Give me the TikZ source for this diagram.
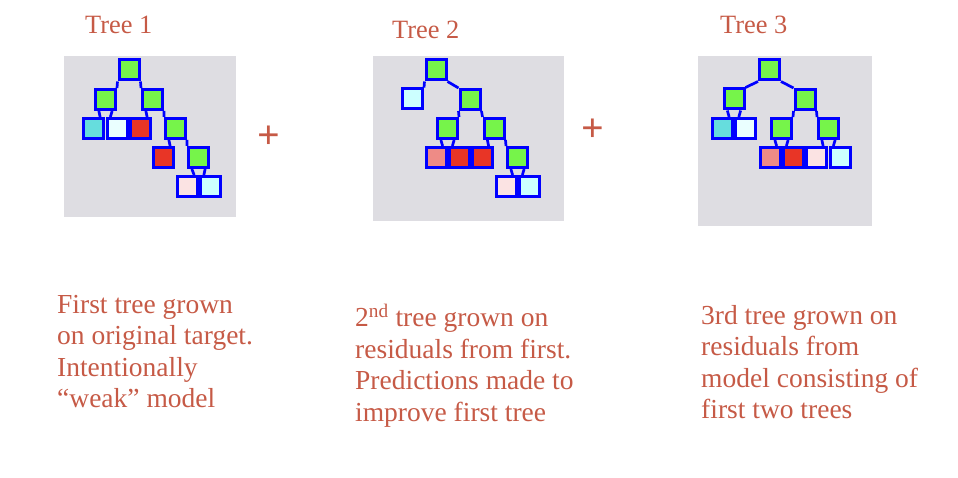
\documentclass[tikz,border=0pt]{standalone}
\usepackage{fontspec}
\setmainfont{Liberation Serif}
\definecolor{brick}{RGB}{198,90,70}
\definecolor{panel}{RGB}{222,221,226}
\definecolor{grn}{RGB}{118,244,74}
\definecolor{cyn}{RGB}{102,221,221}
\definecolor{wht}{RGB}{234,255,255}
\definecolor{rd}{RGB}{232,53,38}
\definecolor{slm}{RGB}{238,139,134}
\definecolor{pnk}{RGB}{251,227,227}
\definecolor{lcy}{RGB}{204,255,255}
\begin{document}
\begin{tikzpicture}[x=1bp, y=-1bp,
  box/.style={draw=blue, line width=3bp, minimum size=20bp, inner sep=0pt},
  edge/.style={draw=blue, line width=2.7bp},
  title/.style={text=brick, font=\fontsize{26.5}{30}\selectfont, inner sep=0pt, anchor=base west},
  caption/.style={text=brick, font=\fontsize{27.6}{31.7}\selectfont, inner sep=0pt, anchor=north west, align=left},
  plus/.style={text=brick, font=\fontsize{40}{40}\selectfont\bfseries, inner sep=0pt}]
\useasboundingbox (0,0) rectangle (958,478);
\fill[panel] (64,56) rectangle (236,217);
\fill[panel] (373,56) rectangle (564,221);
\fill[panel] (698,56) rectangle (872,226);
% tree 1
\node[box, fill=grn] (t1r) at (129,70) {};
\node[box, fill=grn] (t1a) at (105.5,99.5) {};
\node[box, fill=grn] (t1b) at (152.5,99.5) {};
\node[box, fill=cyn] (t1c) at (93.5,128.5) {};
\node[box, fill=wht] (t1d) at (117,128.5) {};
\node[box, fill=rd] (t1e) at (140.5,128.5) {};
\node[box, fill=grn] (t1f) at (175.5,128.5) {};
\node[box, fill=rd] (t1g) at (163.5,157.5) {};
\node[box, fill=grn] (t1h) at (198.5,157.5) {};
\node[box, fill=pnk] (t1i) at (187.5,186.5) {};
\node[box, fill=lcy] (t1j) at (210.5,186.5) {};
\draw[edge] (t1r.south west) -- (t1a.north east);
\draw[edge] (t1r.south east) -- (t1b.north west);
\draw[edge] (t1a.-120) -- (t1c.60);
\draw[edge] (t1a.-60) -- (t1d.120);
\draw[edge] (t1b.-120) -- (t1e.60);
\draw[edge] (t1b.south east) -- (t1f.north west);
\draw[edge] (t1f.-120) -- (t1g.60);
\draw[edge] (t1f.south east) -- (t1h.north west);
\draw[edge] (t1h.-120) -- (t1i.60);
\draw[edge] (t1h.-60) -- (t1j.120);
% tree 2
\node[box, fill=grn] (t2r) at (436,70) {};
\node[box, fill=lcy] (t2a) at (412.5,99) {};
\node[box, fill=grn] (t2b) at (470,99.5) {};
\node[box, fill=grn] (t2c) at (447.5,128.5) {};
\node[box, fill=grn] (t2d) at (494,128.5) {};
\node[box, fill=slm] (t2e) at (436,157.5) {};
\node[box, fill=rd] (t2f) at (459,157.5) {};
\node[box, fill=rd] (t2g) at (482,157.5) {};
\node[box, fill=grn] (t2h) at (517.5,157.5) {};
\node[box, fill=pnk] (t2i) at (506,186.5) {};
\node[box, fill=lcy] (t2j) at (529,186.5) {};
\draw[edge] (t2r.south west) -- (t2a.north east);
\draw[edge] (t2r.south east) -- (t2b.north west);
\draw[edge] (t2b.south west) -- (t2c.north east);
\draw[edge] (t2b.south east) -- (t2d.north west);
\draw[edge] (t2c.-120) -- (t2e.60);
\draw[edge] (t2c.-60) -- (t2f.120);
\draw[edge] (t2d.-120) -- (t2g.60);
\draw[edge] (t2d.south east) -- (t2h.north west);
\draw[edge] (t2h.-120) -- (t2i.60);
\draw[edge] (t2h.-60) -- (t2j.120);
% tree 3
\node[box, fill=grn] (t3r) at (769.5,70) {};
\node[box, fill=grn] (t3a) at (734,99) {};
\node[box, fill=grn] (t3b) at (805,99.5) {};
\node[box, fill=cyn] (t3c) at (722.5,128.5) {};
\node[box, fill=wht] (t3d) at (745.5,128.5) {};
\node[box, fill=grn] (t3e) at (781.5,128.5) {};
\node[box, fill=grn] (t3f) at (828.5,128.5) {};
\node[box, fill=slm] (t3g) at (770,157.5) {};
\node[box, fill=rd] (t3h) at (793,157.5) {};
\node[box, fill=pnk] (t3i) at (816.5,157.5) {};
\node[box, fill=lcy] (t3j) at (840,157.5) {};
\draw[edge] (t3r.south west) -- (t3a.north east);
\draw[edge] (t3r.south east) -- (t3b.north west);
\draw[edge] (t3a.-120) -- (t3c.60);
\draw[edge] (t3a.-60) -- (t3d.120);
\draw[edge] (t3b.south west) -- (t3e.north east);
\draw[edge] (t3b.south east) -- (t3f.north west);
\draw[edge] (t3e.-120) -- (t3g.60);
\draw[edge] (t3e.-60) -- (t3h.120);
\draw[edge] (t3f.-120) -- (t3i.60);
\draw[edge] (t3f.-60) -- (t3j.120);
% titles and plus signs
\node[title] (n1) at (85,34) {Tree 1};
\node[title] (n2) at (392,39) {Tree 2};
\node[title] (n3) at (720,34) {Tree 3};
\node[plus] (p1) at (268.5,137) {+};
\node[plus] (p2) at (592.5,130) {+};
% captions
\node[caption] (c1) at (57,293) {\rule{0pt}{20bp}First tree grown\\on original target.\\Intentionally\\``weak'' model};
\node[caption] (c2) at (355,304) {\rule{0pt}{20bp}2\textsuperscript{nd} tree grown on\\residuals from first.\\Predictions made to\\improve first tree};
\node[caption] (c3) at (701,304) {\rule{0pt}{20bp}3rd tree grown on\\residuals from\\model consisting of\\first two trees};
\end{tikzpicture}
\end{document}
